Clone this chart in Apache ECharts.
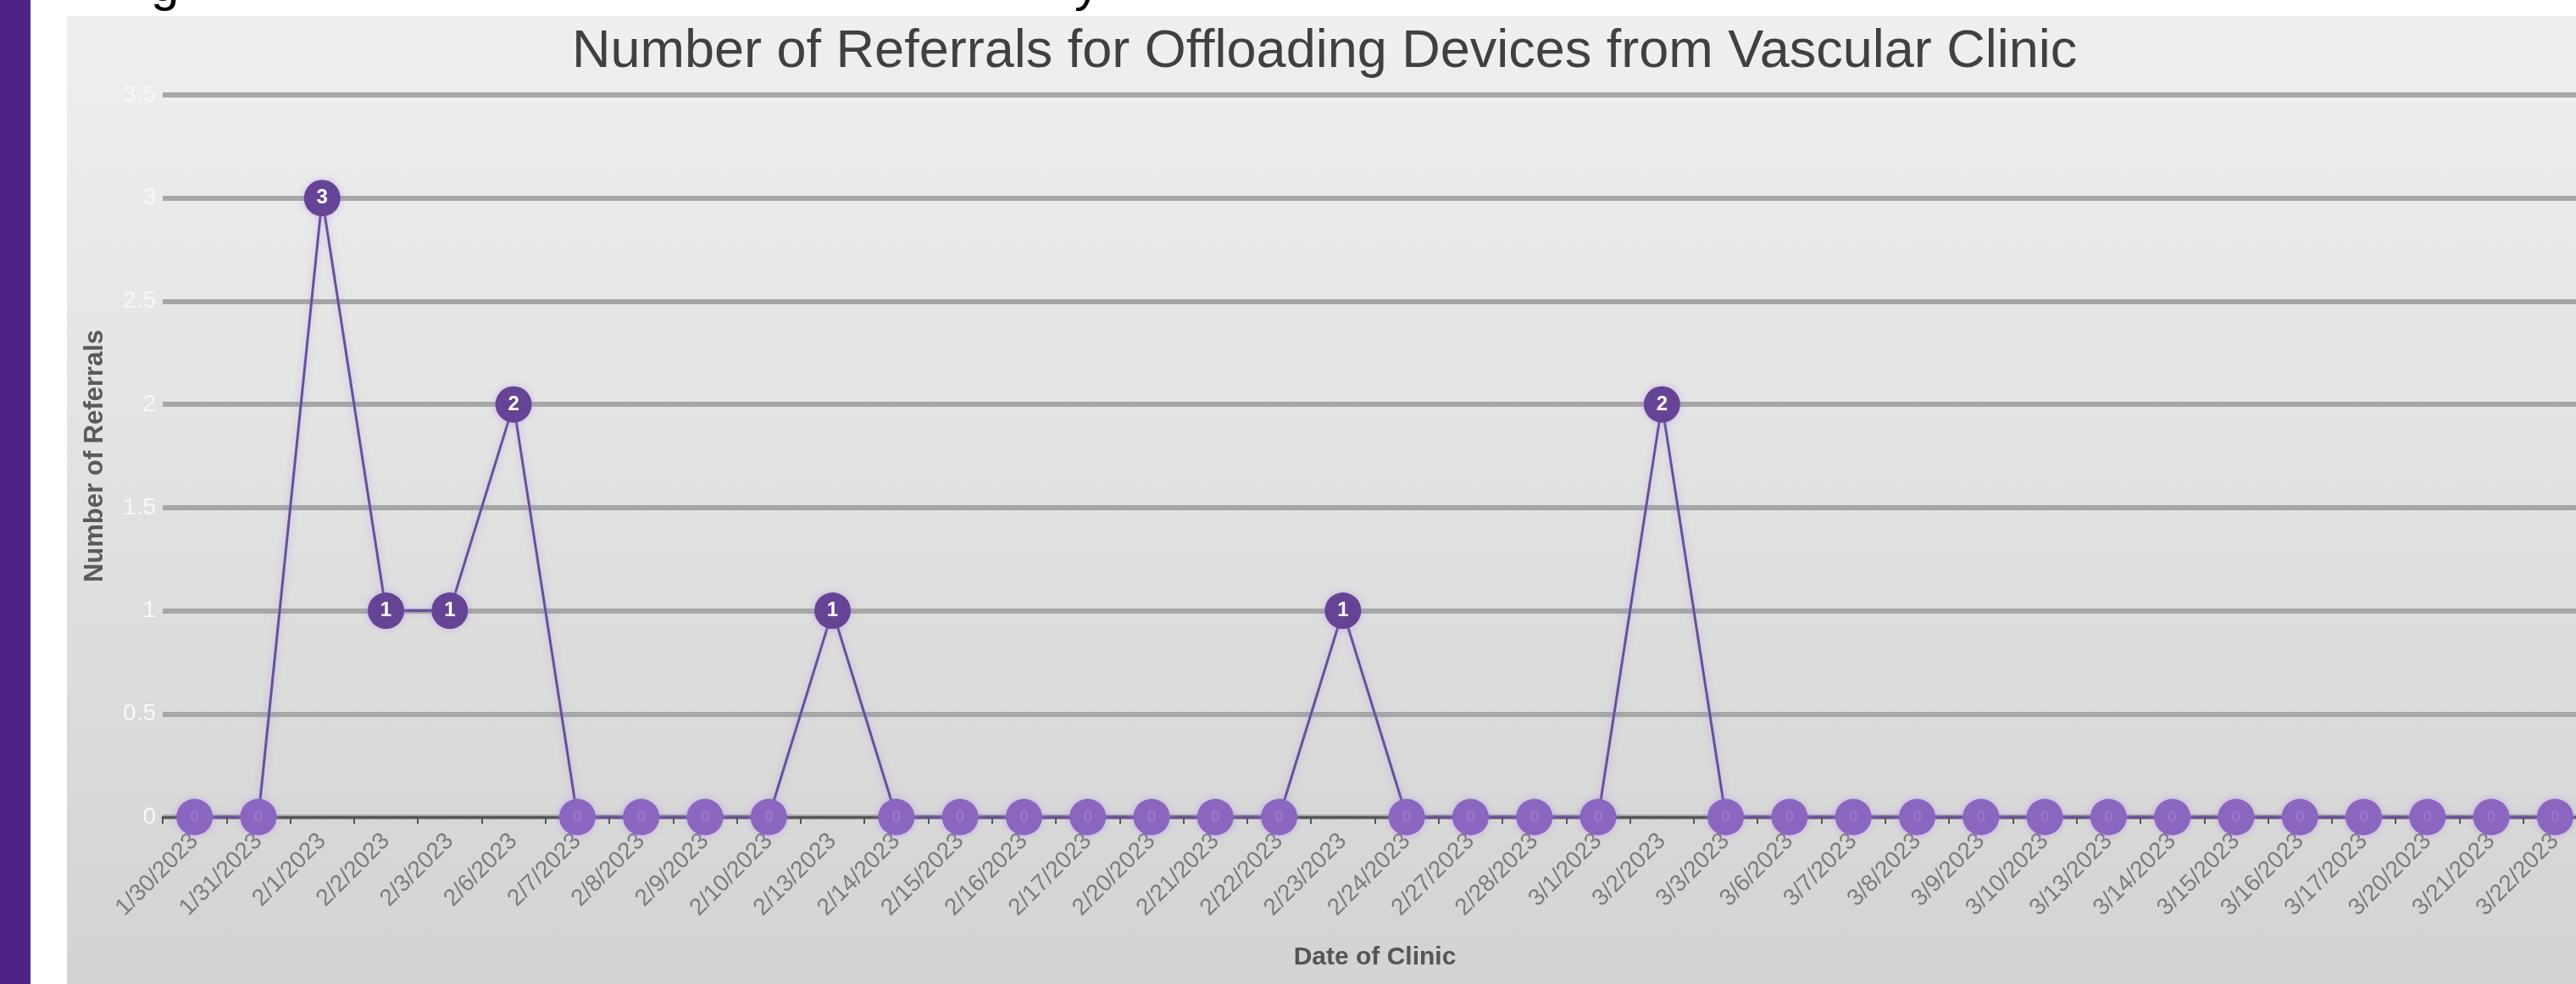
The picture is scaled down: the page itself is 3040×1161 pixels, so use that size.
<!DOCTYPE html>
<html>
<head>
<meta charset="utf-8">
<script src="https://cdn.jsdelivr.net/npm/echarts@6/dist/echarts.min.js"></script>
<style>
html,body{margin:0;padding:0;background:#fff;overflow:hidden;}
#c{width:3040px;height:1161px;}
</style>
</head>
<body>
<div id="c"></div>
<script>
const categories = ['1/30/2023','1/31/2023','2/1/2023','2/2/2023','2/3/2023','2/6/2023','2/7/2023','2/8/2023','2/9/2023','2/10/2023','2/13/2023','2/14/2023','2/15/2023','2/16/2023','2/17/2023','2/20/2023','2/21/2023','2/22/2023','2/23/2023','2/24/2023','2/27/2023','2/28/2023','3/1/2023','3/2/2023','3/3/2023','3/6/2023','3/7/2023','3/8/2023','3/9/2023','3/10/2023','3/13/2023','3/14/2023','3/15/2023','3/16/2023','3/17/2023','3/20/2023','3/21/2023','3/22/2023'];
const referrals = [0,0,3,1,1,2,0,0,0,0,1,0,0,0,0,0,0,0,1,0,0,0,0,2,0,0,0,0,0,0,0,0,0,0,0,0,0,0];
const titleText = 'Number of Referrals for Offloading Devices from Vascular Clinic';
const xName = 'Date of Clinic';
const yName = 'Number of Referrals';

const chart = echarts.init(document.getElementById('c'));
const seriesData = referrals.map(v => v === 0 ? {
  value: v,
  itemStyle: {color: '#8a66c0'},
  label: {color: '#9878ca', fontSize: 20}
} : {
  value: v,
  itemStyle: {color: '#654495'},
  label: {color: '#ffffff'}
});

chart.setOption({
  backgroundColor: '#ffffff',
  animation: false,
  graphic: [
    {type: 'rect', z: -100, shape: {x: 0, y: 0, width: 36, height: 1161}, style: {fill: '#4f2386'}},
    {type: 'rect', z: -100, shape: {x: 79, y: 19, width: 2961, height: 1142},
      style: {fill: new echarts.graphic.LinearGradient(0, 0, 0, 1, [
        {offset: 0, color: '#efefef'}, {offset: 1, color: '#d3d3d3'}])}},
    {type: 'text', z: -50, x: 178, y: 14, style: {text: 'g', fill: '#000', font: '60px Arial, Liberation Sans', textVerticalAlign: 'bottom'}},
    {type: 'text', z: -50, x: 1268, y: 14, style: {text: 'y', fill: '#000', font: '60px Arial, Liberation Sans', textVerticalAlign: 'bottom'}}
  ],
  title: {
    text: titleText,
    left: 670,
    top: 25,
    textStyle: {fontFamily: 'Liberation Sans, Arial', fontSize: 63, fontWeight: 'normal', color: '#404040'}
  },
  grid: {left: 192, right: -13, top: 112, bottom: 197, containLabel: false, outerBoundsMode: 'none'},
  xAxis: {
    type: 'category',
    data: categories,
    boundaryGap: true,
    name: xName,
    nameLocation: 'middle',
    nameGap: 151,
    nameTextStyle: {fontFamily: 'Liberation Sans, Arial', fontSize: 30, fontWeight: 'bold', color: '#555'},
    axisLine: {lineStyle: {color: '#555', width: 3}},
    axisTick: {show: true, length: 8, lineStyle: {color: '#555', width: 2}},
    axisLabel: {rotate: 45, margin: 24, interval: 0, fontFamily: 'Liberation Sans, Arial', fontSize: 28, color: '#7c7c7c'},
    splitLine: {show: false}
  },
  yAxis: {
    type: 'value',
    min: 0,
    max: 3.5,
    interval: 0.5,
    name: yName,
    nameLocation: 'middle',
    nameGap: 64,
    nameTextStyle: {fontFamily: 'Liberation Sans, Arial', fontSize: 31, fontWeight: 'bold', color: '#5a5a5a'},
    axisLine: {show: false},
    axisTick: {show: false},
    axisLabel: {show: true, color: '#f8f8f8', fontSize: 28, margin: 8},
    splitLine: {lineStyle: {color: '#a6a6a6', width: 6}}
  },
  series: [{
    type: 'line',
    data: seriesData,
    symbol: 'circle',
    symbolSize: 43,
    showAllSymbol: true,
    lineStyle: {color: '#684f9c', width: 3, shadowBlur: 8, shadowColor: 'rgba(170,130,230,0.5)'},
    itemStyle: {shadowBlur: 10, shadowColor: 'rgba(170,130,230,0.5)'},
    label: {show: true, position: 'inside', formatter: '{c}', fontFamily: 'Liberation Sans, Arial', fontSize: 24, fontWeight: 'bold'},
    z: 5
  }]
});
</script>
</body>
</html>
